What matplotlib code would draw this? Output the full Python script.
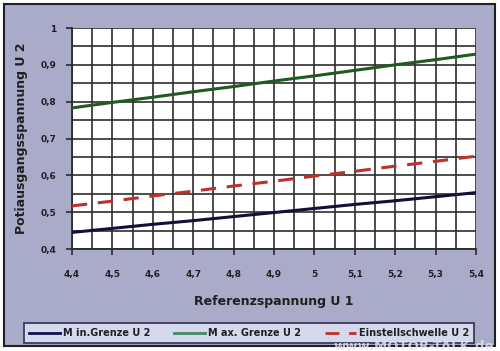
import matplotlib
matplotlib.use("Agg")
import matplotlib.pyplot as plt
from matplotlib.patches import Rectangle
from matplotlib.lines import Line2D
from matplotlib.ticker import MultipleLocator

# Data
u1 = [4.4, 4.5, 4.6, 4.7, 4.8, 4.9, 5.0, 5.1, 5.2, 5.3, 5.4]
min_grenze = [0.445, 0.456, 0.467, 0.477, 0.488, 0.499, 0.510, 0.521, 0.531, 0.542, 0.553]
max_grenze = [0.783, 0.798, 0.812, 0.827, 0.841, 0.856, 0.870, 0.885, 0.900, 0.914, 0.929]
einstell = [0.517, 0.530, 0.544, 0.557, 0.571, 0.584, 0.598, 0.611, 0.625, 0.638, 0.652]
x_ticks = [4.4, 4.5, 4.6, 4.7, 4.8, 4.9, 5.0, 5.1, 5.2, 5.3, 5.4]
x_labels = ["4,4", "4,5", "4,6", "4,7", "4,8", "4,9", "5", "5,1", "5,2", "5,3", "5,4"]
y_ticks = [0.4, 0.5, 0.6, 0.7, 0.8, 0.9, 1.0]
y_labels = ["0,4", "0,5", "0,6", "0,7", "0,8", "0,9", "1"]
series_names = ["M in.Grenze U 2", "M ax. Grenze U 2", "Einstellschwelle U 2"]

W, H = 500, 351
plt.rcParams["font.family"] = ["DejaVu Sans"]
fig = plt.figure(figsize=(W / 100, H / 100), dpi=100)
fig.patch.set_facecolor("white")

# outer panel
fig.patches.append(Rectangle((4 / W, 1 - 346 / H), 491 / W, 342 / H, transform=fig.transFigure,
                             facecolor="#a9abc8", edgecolor="#202020", linewidth=1.5, zorder=-10))

ax = fig.add_axes([72 / W, 1 - 249 / H, 404 / W, 221 / H])
ax.set_facecolor("white")
ax.set_xlim(4.4, 5.4)
ax.set_ylim(0.4, 1.0)

ax.xaxis.set_minor_locator(MultipleLocator(0.05))
ax.yaxis.set_minor_locator(MultipleLocator(0.05))
ax.set_xticks(x_ticks)
ax.set_xticklabels(x_labels)
ax.set_yticks(y_ticks)
ax.set_yticklabels(y_labels)
ax.grid(True, which="both", color="#2e2e2e", linewidth=1.2)
ax.set_axisbelow(True)
for s in ["top", "right"]:
    ax.spines[s].set_visible(False)
for s in ["left", "bottom"]:
    ax.spines[s].set_color("#2a2a2a")
    ax.spines[s].set_linewidth(1.3)
ax.tick_params(which="major", length=4, width=1.2, color="#2a2a2a", labelsize=6.5)
ax.tick_params(which="minor", length=0)
for lab in ax.get_xticklabels() + ax.get_yticklabels():
    lab.set_fontweight("bold")
    lab.set_color("#202020")
ax.tick_params(axis="x", pad=11)
ax.tick_params(axis="y", pad=7)

ax.plot(u1, max_grenze, color="#1f5a1f", linewidth=2.2, zorder=3)
ax.plot(u1, einstell, color="#c0302a", linewidth=2.2, dashes=(5, 3.5), zorder=3)
ax.plot(u1, min_grenze, color="#10103a", linewidth=2.2, zorder=3)

ax.set_xlabel("Referenzspannung U 1", fontsize=9, fontweight="bold", color="#202020", labelpad=12)
ax.set_ylabel("Potiausgangsspannung U 2", fontsize=9, fontweight="bold", color="#202020", labelpad=9)

handles = [
    Line2D([], [], color="#101050", linewidth=2),
    Line2D([], [], color="#3f8a6a", linewidth=2),
    Line2D([], [], color="#c0302a", linewidth=2, dashes=(5, 3.5)),
]
leg = fig.legend(handles, series_names, loc="lower left",
                 bbox_to_anchor=(24 / W, 1 - 343 / H, 450 / W, 23 / H), mode="expand",
                 ncol=3, fontsize=7, frameon=True, fancybox=False, handlelength=3.2,
                 handletextpad=0.3, columnspacing=1.0, borderpad=0.5, borderaxespad=0)
leg.get_frame().set_facecolor("#d6d8ee")
leg.get_frame().set_edgecolor("#303050")
leg.get_frame().set_linewidth(1.2)
leg.get_frame().set_alpha(1)
for t in leg.get_texts():
    t.set_fontweight("bold")
    t.set_color("#202020")

fig.text(494 / W, 1 - 346 / H, "www.MOTOR-TALK.de", ha="right", va="center", fontsize=9.5,
         fontweight="bold", color="#e8e8f0", alpha=0.8, zorder=10)

fig.savefig("out.png", dpi=100)
